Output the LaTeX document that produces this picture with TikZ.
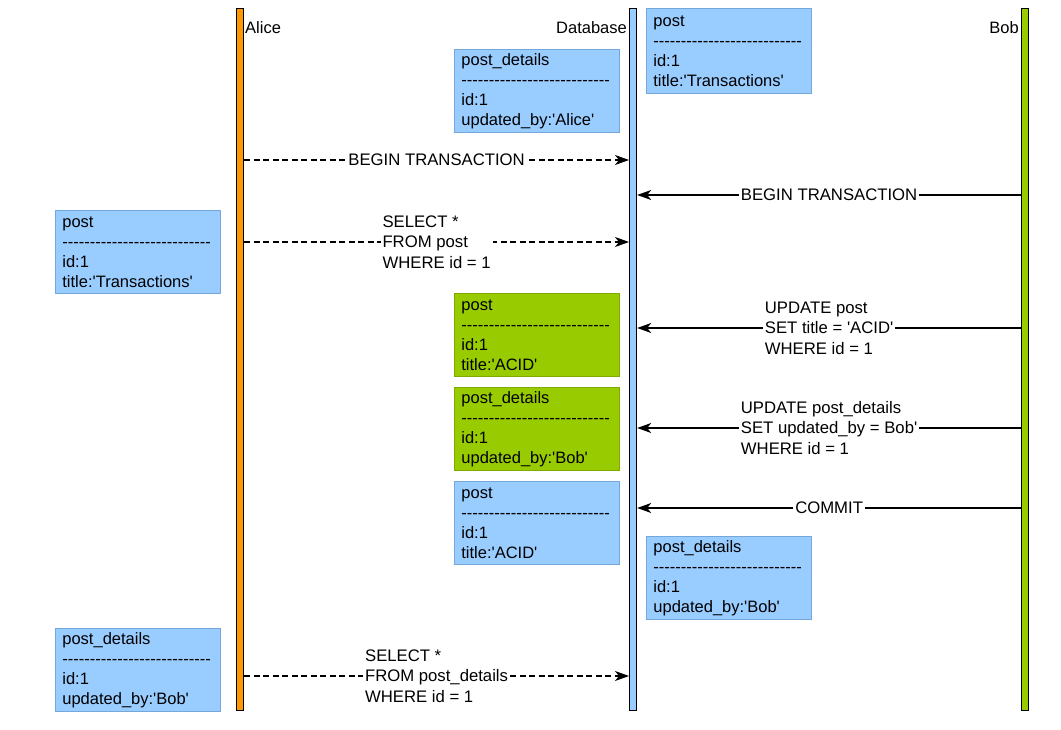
\documentclass[tikz,border=0pt]{standalone}
\usepackage{fontspec}
\setmainfont{Liberation Sans}[Ligatures=TeXOff]
\usetikzlibrary{arrows.meta}
\definecolor{dbblue}{HTML}{99CCFF}
\definecolor{bobgreen}{HTML}{99CC00}
\definecolor{aliceorange}{HTML}{FF9900}
\definecolor{blueedge}{HTML}{74A8DC}
\definecolor{greenedge}{HTML}{80AA00}
\newcommand\dashrow{\mbox{---------------------------}}
\tikzset{
 lifeline/.style={draw=black, line width=1.2pt, minimum width=7pt, minimum height=702pt, inner sep=0pt, anchor=north west},
 record/.style={anchor=north west, minimum width=165pt, minimum height=83pt, text width=151pt, inner xsep=7pt, inner ysep=3pt, align=left, font=\fontsize{16.5}{20}\selectfont, line width=0.8pt},
 bluerec/.style={record, fill=dbblue, draw=blueedge},
 greenrec/.style={record, fill=bobgreen, draw=greenedge},
 msg/.style={line width=1.2pt, -{Stealth[length=14pt,width=10pt,inset=4pt]}},
 call/.style={msg, dash pattern=on 6pt off 3.5pt},
 msglabel/.style={fill=white, inner xsep=2pt, inner ysep=1pt, align=left, font=\fontsize{16.7}{20.5}\selectfont},
 actor/.style={font=\fontsize{16.5}{20}\selectfont, inner sep=0pt},
}
\begin{document}
\begin{tikzpicture}[x=1pt,y=-1pt]
\useasboundingbox (0,0) rectangle (1061,730);
% lifelines
\node[lifeline, fill=aliceorange] (alice) at (236,8) {};
\node[lifeline, fill=dbblue] (db) at (629,8) {};
\node[lifeline, fill=bobgreen] (bob) at (1021,8) {};
\node[actor, anchor=west] (alicelbl) at (245,28) {Alice};
\node[actor, anchor=east] (dblbl) at (627,28) {Database};
\node[actor, anchor=east] (boblbl) at (1019,28) {Bob};
% records
\node[bluerec] (r1) at (454,49) {post\_details\\\dashrow\\id:1\\updated\_by:'Alice'};
\node[bluerec, minimum height=85pt] (r2) at (646,8) {post\\\dashrow\\id:1\\title:'Transactions'};
\node[bluerec] (r3) at (55,210) {post\\\dashrow\\id:1\\title:'Transactions'};
\node[greenrec] (r4) at (454,293) {post\\\dashrow\\id:1\\title:'ACID'};
\node[greenrec] (r5) at (454,387) {post\_details\\\dashrow\\id:1\\updated\_by:'Bob'};
\node[bluerec] (r6) at (454,481) {post\\\dashrow\\id:1\\title:'ACID'};
\node[bluerec] (r7) at (646,536) {post\_details\\\dashrow\\id:1\\updated\_by:'Bob'};
\node[bluerec] (r8) at (55,628) {post\_details\\\dashrow\\id:1\\updated\_by:'Bob'};
% messages
\draw[call] (alice.east |- 0,160) -- node[msglabel] (m1) {BEGIN TRANSACTION} (db.west |- 0,160);
\draw[msg] (bob.west |- 0,195) -- node[msglabel] (m2) {BEGIN TRANSACTION} (db.east |- 0,195);
\draw[call] (alice.east |- 0,242) -- node[msglabel] (m3) {SELECT *\\FROM post\\WHERE id = 1} (db.west |- 0,242);
\draw[msg] (bob.west |- 0,328) -- node[msglabel] (m4) {UPDATE post\\SET title = 'ACID'\\WHERE id = 1} (db.east |- 0,328);
\draw[msg] (bob.west |- 0,428) -- node[msglabel] (m5) {UPDATE post\_details\\SET updated\_by = Bob'\\WHERE id = 1} (db.east |- 0,428);
\draw[msg] (bob.west |- 0,508) -- node[msglabel] (m6) {COMMIT} (db.east |- 0,508);
\draw[call] (alice.east |- 0,676) -- node[msglabel] (m7) {SELECT *\\FROM post\_details\\WHERE id = 1} (db.west |- 0,676);
\end{tikzpicture}
\end{document}
